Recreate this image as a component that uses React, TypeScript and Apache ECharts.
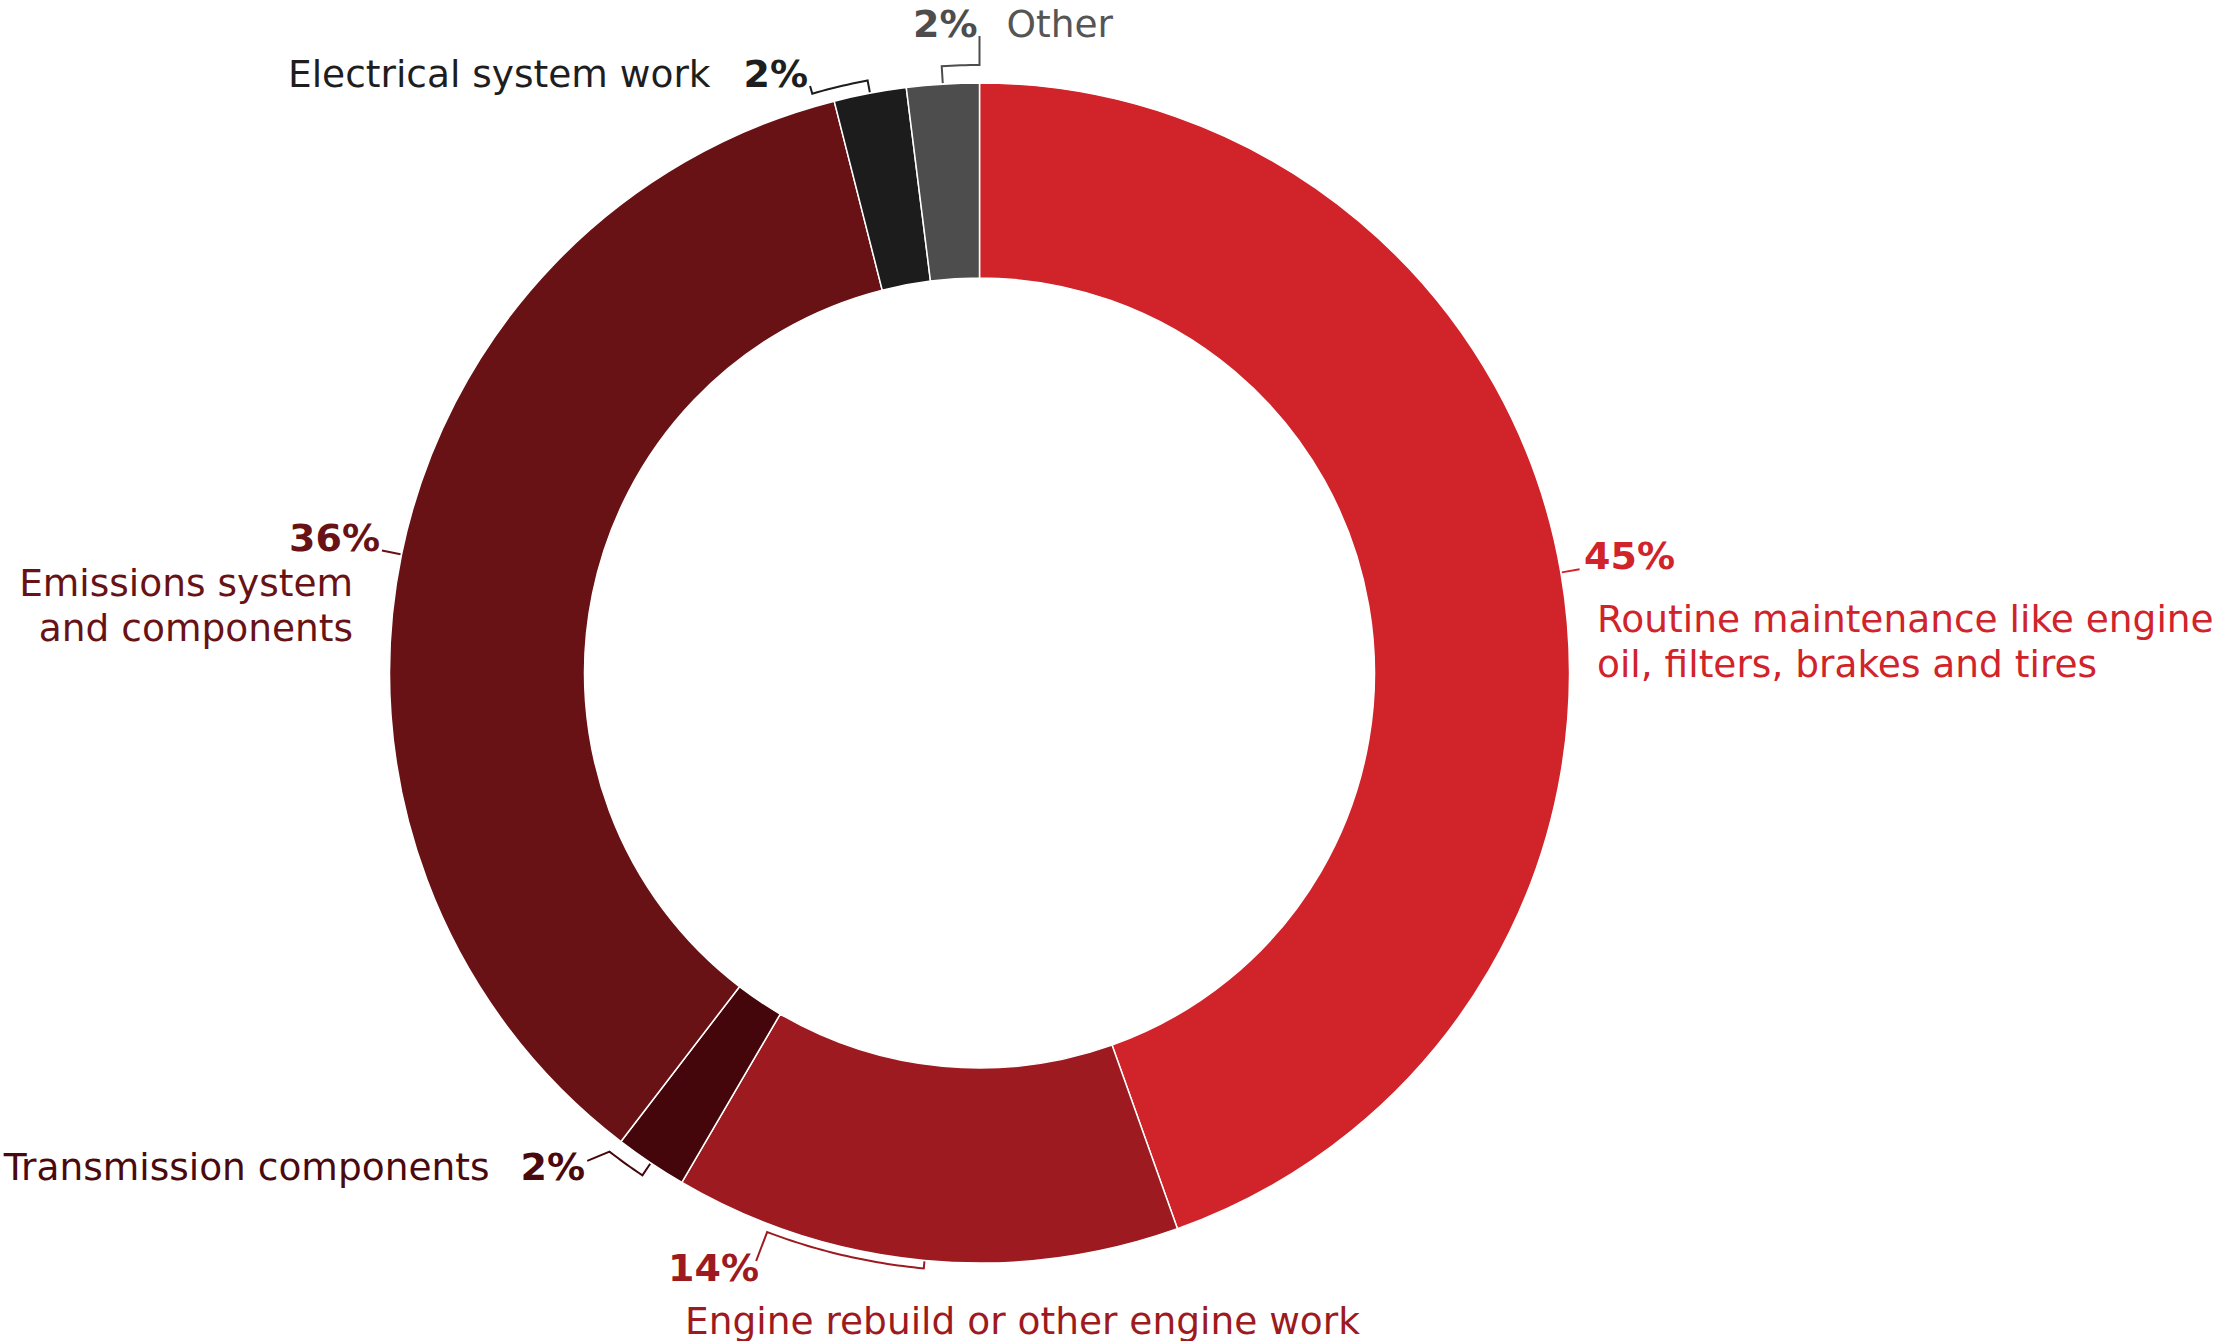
import React, { useEffect, useRef } from 'react';
import * as echarts from 'echarts';

// ---- data ----
const categories = [
  'Routine maintenance like engine oil, filters, brakes and tires',
  'Engine rebuild or other engine work',
  'Transmission components',
  'Emissions system and components',
  'Electrical system work',
  'Other',
];
const values = [45, 14, 2, 36, 2, 2];
const nameLines = [
  ['Routine maintenance like engine', 'oil, filters, brakes and tires'],
  ['Engine rebuild or other engine work'],
  ['Transmission components'],
  ['Emissions system', 'and components'],
  ['Electrical system work'],
  ['Other'],
];

// ---- styles ----
const sliceColors = ['#D1232A', '#9D1A20', '#44060A', '#681216', '#1C1C1C', '#4D4D4D'];
const pctColors = ['#D1232A', '#9D1A20', '#4A0A0D', '#681216', '#1E1E1E', '#4D4D4D'];
const nameColors = ['#D1232A', '#9D1A20', '#4A0A0D', '#681216', '#1E1E1E', '#555555'];

const W = 2217;
const H = 1341;
const CX = 979.5;
const CY = 673;
const R_IN = 395;
const R_OUT = 590;
const FONT = '"DejaVu Sans", "Open Sans", sans-serif';

type LabelLayout = {
  x: number; y: number; align: string; verticalAlign: string; mode: string;
  pLH?: number; nLH?: number; nPad?: number[]; gap?: number; size: number;
};
const labelLayouts: LabelLayout[] = [
  { x: 1584, y: 516, align: 'left', verticalAlign: 'top', mode: 'stack', pLH: 80, nLH: 45, nPad: [0, 0, 0, 13], size: 37.5 },
  { x: 668, y: 1238, align: 'left', verticalAlign: 'top', mode: 'stack', pLH: 60, nLH: 45, nPad: [0, 0, 0, 17], size: 37.5 },
  { x: 585, y: 1167, align: 'right', verticalAlign: 'middle', mode: 'nameFirst', gap: 31, size: 37.5 },
  { x: 380, y: 514, align: 'right', verticalAlign: 'top', mode: 'stack', pLH: 47, nLH: 44.5, nPad: [0, 27, 0, 0], size: 37.5 },
  { x: 288, y: 73.5, align: 'left', verticalAlign: 'middle', mode: 'nameFirst', gap: 33, size: 37.5 },
  { x: 913, y: 23.5, align: 'left', verticalAlign: 'middle', mode: 'pctFirst', gap: 29, size: 37.5 },
];

// leader line shapes (radius of first bend, optional arc end angle, final point)
type Leader = { r1: number; a2?: number; a3?: number; r3?: number };
const leaderLayouts: Leader[] = [
  { r1: 609 },
  { r1: 598, a2: 200.8, a3: 200.8, r3: 629 },
  { r1: 605, a2: 217.7, a3: 218.8, r3: 626 },
  { r1: 610 },
  { r1: 603, a2: 343.9, a3: 343.9, r3: 611 },
  { r1: 608, a2: 360, a3: 360, r3: 637 },
];

function polar(aDeg: number, r: number): number[] {
  const t = (aDeg * Math.PI) / 180;
  return [CX + r * Math.sin(t), CY - r * Math.cos(t)];
}

function buildLeaders() {
  const total = values.reduce((s, v) => s + v, 0);
  let acc = 0;
  const out: any[] = [];
  values.forEach((v, i) => {
    const a0 = (acc / total) * 360;
    acc += v;
    const a1 = (acc / total) * 360;
    const mid = (a0 + a1) / 2;
    const L = leaderLayouts[i];
    const pts: number[][] = [polar(mid, R_OUT + 1), polar(mid, L.r1)];
    if (L.a2 != null) {
      const steps = Math.max(2, Math.ceil(Math.abs(L.a2 - mid) / 0.5));
      for (let k = 1; k <= steps; k++) {
        pts.push(polar(mid + ((L.a2 - mid) * k) / steps, L.r1));
      }
      pts.push(polar(L.a3 as number, L.r3 as number));
    }
    out.push({
      type: 'polyline',
      silent: true,
      z: 10,
      shape: { points: pts },
      style: { stroke: sliceColors[i], lineWidth: 2, fill: null },
    });
  });
  return out;
}

function buildRich() {
  const rich: any = {};
  labelLayouts.forEach((L, i) => {
    rich['p' + i] = {
      fontFamily: FONT,
      fontWeight: 'bold',
      fontSize: 38,
      color: pctColors[i],
      lineHeight: L.pLH || 46,
      align: L.align,
      padding: L.mode === 'nameFirst' ? [0, 0, 0, L.gap] : [0, 0, 0, 0],
    };
    rich['n' + i] = {
      fontFamily: FONT,
      fontWeight: 'normal',
      fontSize: L.size,
      color: nameColors[i],
      lineHeight: L.nLH || 46,
      align: L.align,
      padding: L.mode === 'stack' ? L.nPad : L.mode === 'pctFirst' ? [0, 0, 0, L.gap] : [0, 0, 0, 0],
    };
  });
  return rich;
}

function formatLabel(params: any): string {
  const i = params.dataIndex;
  const L = labelLayouts[i];
  const pct = `{p${i}|${values[i]}%}`;
  const names = nameLines[i].map((t) => `{n${i}|${t}}`);
  if (L.mode === 'stack') return [pct, ...names].join('\n');
  if (L.mode === 'nameFirst') return names.join('') + pct;
  return pct + names.join('');
}

export default function App() {
  const ref = useRef<HTMLDivElement>(null);
  useEffect(() => {
    if (!ref.current) return;
    const chart = echarts.init(ref.current, null, { renderer: 'svg' });
    chart.setOption({
      animation: false,
      backgroundColor: '#ffffff',
      series: [
        {
          type: 'pie',
          center: [CX, CY],
          radius: [R_IN, R_OUT],
          startAngle: 90,
          clockwise: true,
          avoidLabelOverlap: false,
          silent: true,
          itemStyle: { borderColor: '#ffffff', borderWidth: 1.5 },
          label: {
            show: true,
            position: 'outside',
            fontFamily: FONT,
            formatter: formatLabel,
            rich: buildRich(),
          },
          labelLine: { show: false },
          labelLayout: (params: any) => {
            const L = labelLayouts[params.dataIndex];
            return { x: L.x, y: L.y, align: L.align, verticalAlign: L.verticalAlign };
          },
          data: categories.map((name, i) => ({
            name,
            value: values[i],
            itemStyle: { color: sliceColors[i] },
          })),
        },
      ],
      graphic: buildLeaders(),
    });
    return () => chart.dispose();
  }, []);
  return (
    <div
      ref={ref}
      style={{ position: 'fixed', left: 0, top: 0, width: W, height: H, background: '#fff' }}
    />
  );
}
